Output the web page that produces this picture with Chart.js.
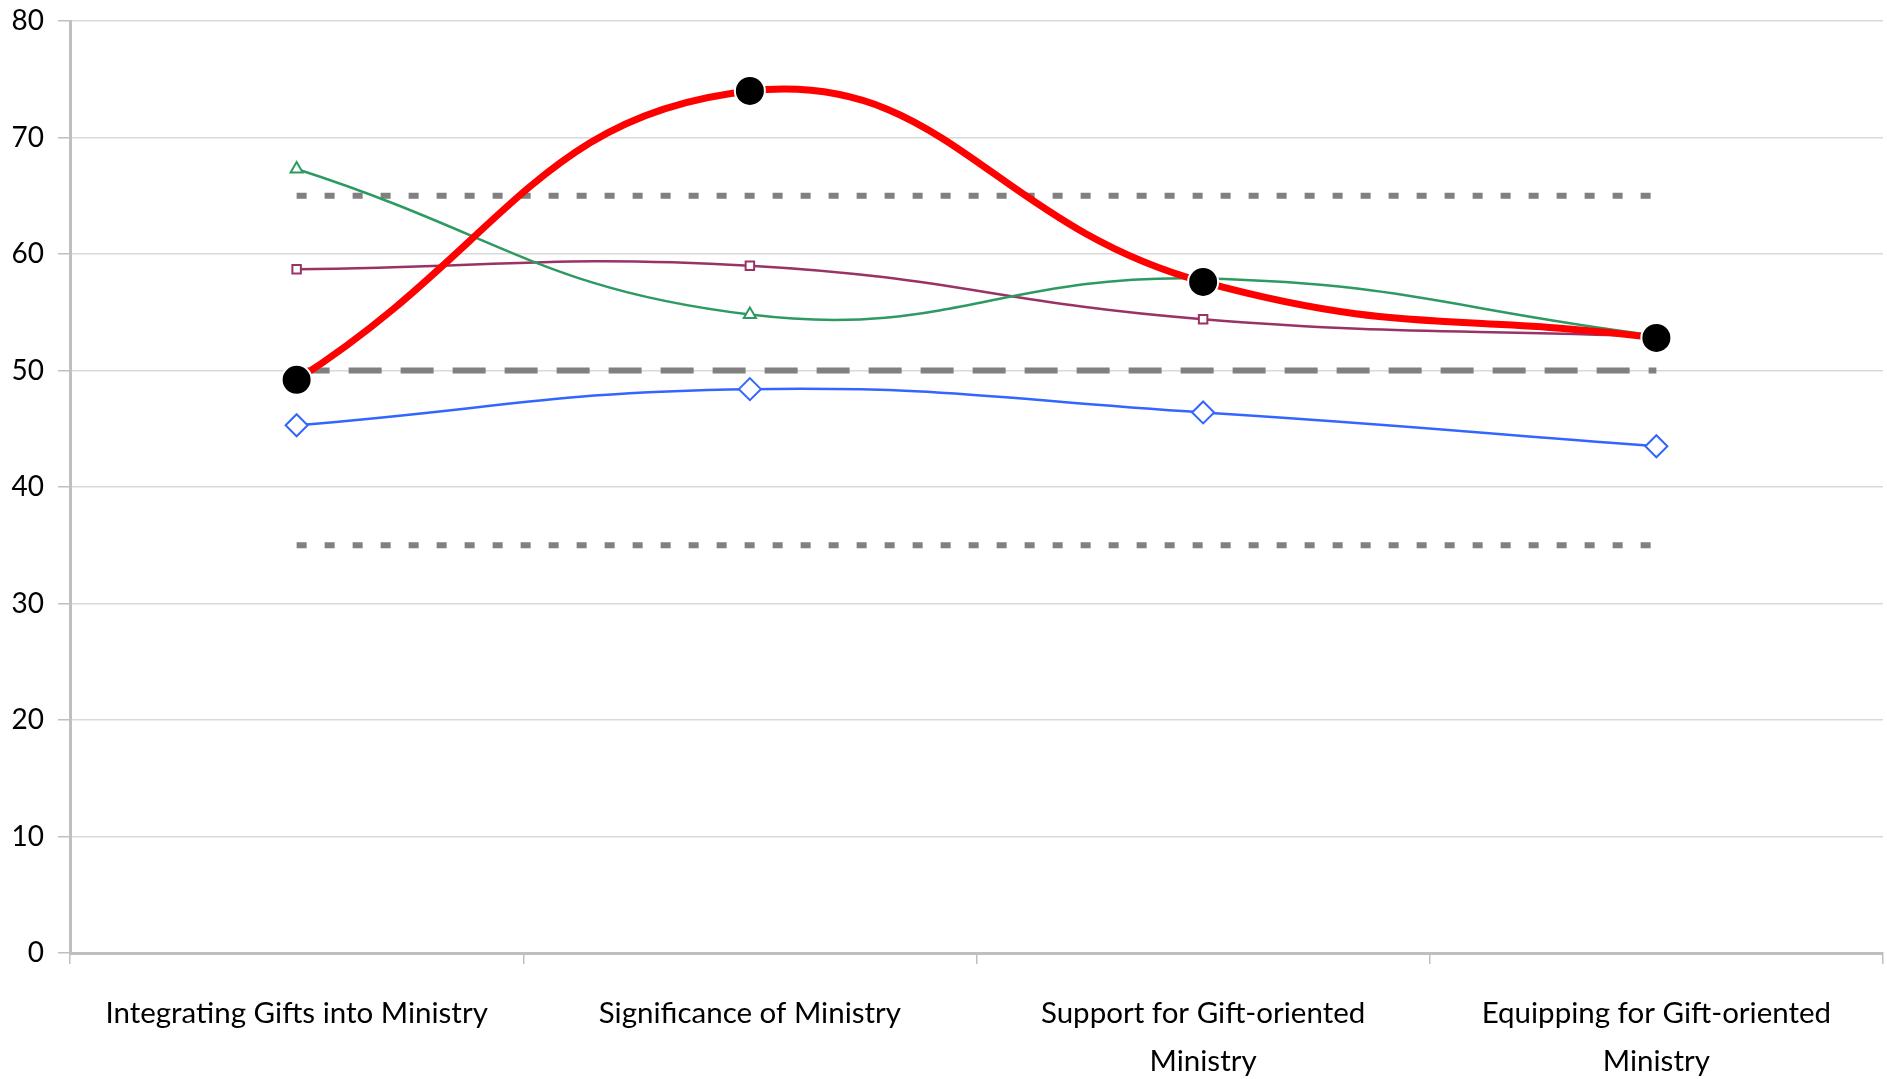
<!DOCTYPE html>
<html><head><meta charset="utf-8">
<script src="https://cdn.jsdelivr.net/npm/chart.js@4/dist/chart.umd.min.js"></script>
<style>html,body{margin:0;padding:0;background:#fff}#wrap{width:1887px;height:1079px}</style>
</head><body><div id="wrap"><canvas id="c" width="1887" height="1079"></canvas></div>
<script>
const categories = [["Integrating Gifts into Ministry"], ["Significance of Ministry"], ["Support for Gift-oriented", "Ministry"], ["Equipping for Gift-oriented", "Ministry"]];
const redValues = [49.2, 74.0, 57.6, 52.8];
const greenValues = [67.3, 54.8, 57.9, 53.0];
const purpleValues = [58.7, 59.0, 54.4, 52.9];
const blueValues = [45.3, 48.4, 46.4, 43.5];
const upperRef = [65, 65, 65, 65];
const midRef = [50, 50, 50, 50];
const lowerRef = [35, 35, 35, 35];
const yMin = 0, yMax = 80, yStep = 10;

const FONT = "Lato, 'Open Sans', sans-serif";
const refStyle = (data, dash, order) => ({
  data, borderColor: '#808080', borderWidth: 6, borderDash: dash, pointRadius: 0,
  tension: 0, fill: false, order
});

new Chart(document.getElementById('c'), {
  type: 'line',
  data: {
    labels: categories,
    datasets: [
      { data: redValues, borderColor: '#ff0000', borderWidth: 7, tension: 0.45,
        pointRadius: 15, pointHoverRadius: 15, pointBackgroundColor: '#000', pointBorderColor: '#fff', pointBorderWidth: 2, order: 0 },
      { data: greenValues, borderColor: '#2e9a62', borderWidth: 2.5, tension: 0.45,
        pointStyle: 'triangle', pointRadius: 7, pointBackgroundColor: '#fff', pointBorderColor: '#2e9a62', pointBorderWidth: 2, order: 2 },
      { data: purpleValues, borderColor: '#993366', borderWidth: 2.5, tension: 0.45,
        pointStyle: 'rect', pointRadius: 6, pointBackgroundColor: '#fff', pointBorderColor: '#993366', pointBorderWidth: 2, order: 3 },
      { data: blueValues, borderColor: '#3366ff', borderWidth: 2.5, tension: 0.45,
        pointStyle: 'rectRot', pointRadius: 11, pointBackgroundColor: '#fff', pointBorderColor: '#3366ff', pointBorderWidth: 2, order: 1 },
      refStyle(upperRef, [10, 18], 5),
      refStyle(midRef, [33, 19], 5),
      refStyle(lowerRef, [10, 18], 5)
    ]
  },
  options: {
    responsive: false, animation: false, devicePixelRatio: 1,
    layout: { padding: 0, autoPadding: false },
    plugins: { legend: { display: false }, tooltip: { enabled: false }, title: { display: false } },
    scales: {
      x: {
        type: 'category', offset: true,
        grid: { offset: true, drawOnChartArea: false, drawTicks: true, tickLength: 11, color: '#bfbfbf', lineWidth: 1.5 },
        border: { color: '#bfbfbf', width: 3 },
        ticks: { color: '#000', font: { family: FONT, size: 29.5, lineHeight: '48px' }, padding: 25, maxRotation: 0, minRotation: 0, autoSkip: false },
        afterFit: s => { s.height = 126; s.paddingLeft = 0; s.paddingRight = 4; }
      },
      y: {
        min: yMin, max: yMax,
        grid: { color: '#d9d9d9', lineWidth: 1.5, tickColor: '#bfbfbf', tickLength: 12 },
        border: { color: '#bfbfbf', width: 3 },
        ticks: { stepSize: yStep, color: '#000', font: { family: FONT, size: 28 }, padding: 14 },
        afterFit: s => { s.width = 70; s.paddingTop = 21; s.paddingBottom = 0; }
      }
    }
  }
});
</script></body></html>
